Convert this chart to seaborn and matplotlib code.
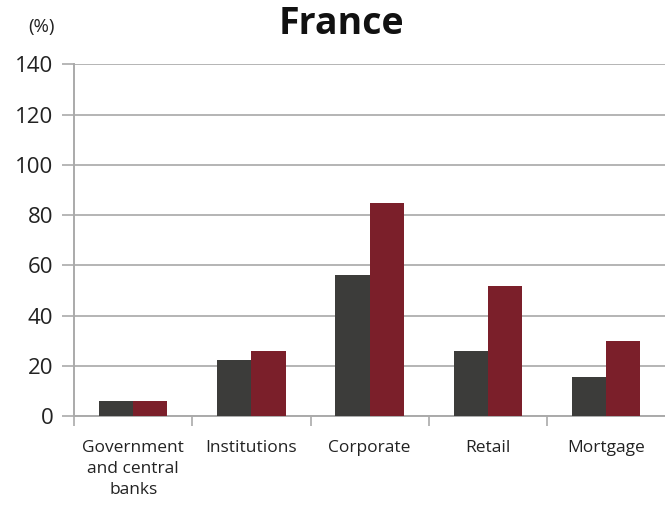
import matplotlib
matplotlib.use("Agg")
import matplotlib.pyplot as plt
import seaborn as sns
import pandas as pd
from matplotlib.ticker import FixedLocator, NullFormatter

categories = ["Government\nand central\nbanks", "Institutions", "Corporate", "Retail", "Mortgage"]
series_names = ["Series 1", "Series 2"]
series_1 = [5.8, 22.1, 56.3, 25.7, 15.5]
series_2 = [5.8, 25.7, 84.9, 51.7, 29.7]
y_ticks = [0, 20, 40, 60, 80, 100, 120, 140]
colors = ["#3c3c3a", "#7b1f2a"]

df = pd.DataFrame({
    "category": categories * 2,
    "series": [series_names[0]] * len(categories) + [series_names[1]] * len(categories),
    "value": series_1 + series_2,
})

sns.set_style("white")
plt.rcParams["font.family"] = ["Open Sans", "DejaVu Sans"]

fig = plt.figure(figsize=(6.65, 5.07), dpi=100)
ax = fig.add_axes([0.1117, 0.1795, 0.8883, 0.6935])

sns.barplot(data=df, x="category", y="value", hue="series", order=categories,
            hue_order=series_names, palette=colors, width=0.578, saturation=1,
            linewidth=0, legend=False, ax=ax, zorder=3)

ax.set_ylim(0, 140)
ax.set_xlim(-0.5, 4.5)
ax.set_yticks(y_ticks)
ax.yaxis.grid(True, color="#b4b4b4", linewidth=1.4, zorder=0)
ax.set_axisbelow(True)
ax.tick_params(axis="y", labelsize=16, colors="#aaaaaa", labelcolor="#222222",
               length=9, width=1.2, direction="out", left=True, pad=6)

# category boundary ticks on the x axis
ax.xaxis.set_minor_locator(FixedLocator([-0.5, 0.5, 1.5, 2.5, 3.5]))
ax.xaxis.set_minor_formatter(NullFormatter())
ax.tick_params(axis="x", which="major", length=0, labelsize=12.5, labelcolor="#222222", pad=17)
ax.tick_params(axis="x", which="minor", length=7, width=1.2, color="#aaaaaa", bottom=True)
for lbl in ax.get_xticklabels():
    lbl.set_linespacing(1.45)

ax.set_xlabel("")
ax.set_ylabel("")
for side in ["top", "right"]:
    ax.spines[side].set_visible(False)
for side in ["left", "bottom"]:
    ax.spines[side].set_color("#aaaaaa")
    ax.spines[side].set_linewidth(1.4)

fig.text(0.513, 0.952, "France", ha="center", va="center", fontsize=27, fontweight="bold", color="#111111")
fig.text(0.062, 0.947, "(%)", ha="center", va="center", fontsize=13.5, color="#222222")

fig.savefig("out.png", dpi=100)
